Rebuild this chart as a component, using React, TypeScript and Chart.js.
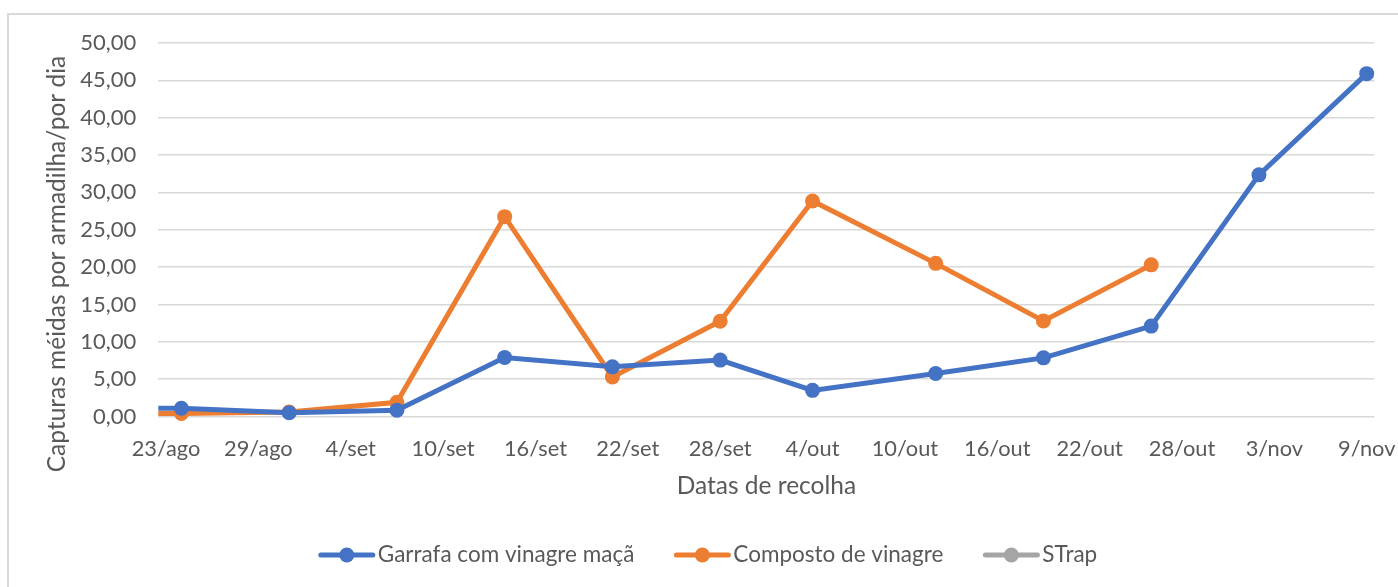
import React, { useEffect, useRef } from "react";
import { Chart, registerables } from "chart.js";

Chart.register(...registerables);

const MONTHS = ["jan", "fev", "mar", "abr", "mai", "jun", "jul", "ago", "set", "out", "nov", "dez"];

const xTickLabels = ["23/ago", "29/ago", "4/set", "10/set", "16/set", "22/set", "28/set", "4/out", "10/out", "16/out", "22/out", "28/out", "3/nov", "9/nov"];

const seriesNames = ["Garrafa com vinagre maçã", "Composto de vinagre", "STrap"];

const garrafaDates = ["17/ago", "24/ago", "31/ago", "7/set", "14/set", "21/set", "28/set", "4/out", "12/out", "19/out", "26/out", "2/nov", "9/nov"];
const garrafaValues = [1.1, 1.1, 0.5, 0.85, 7.9, 6.65, 7.55, 3.5, 5.75, 7.85, 12.1, 32.35, 45.9];

const compostoDates = ["17/ago", "24/ago", "31/ago", "7/set", "14/set", "21/set", "28/set", "4/out", "12/out", "19/out", "26/out"];
const compostoValues = [0.4, 0.4, 0.6, 1.9, 26.75, 5.3, 12.75, 28.85, 20.5, 12.8, 20.3];

const strapDates: string[] = [];
const strapValues: number[] = [];

const yMin = 0;
const yMax = 50;
const yStep = 5;

const seriesColors = ["#4472C4", "#ED7D31", "#A5A5A5"];
const yTitle = "Capturas méidas por armadilha/por dia";
const xTitle = "Datas de recolha";

const FONT = "Lato";
const TEXT = "#595959";
const GRID = "#d9d9d9";

function dayOffset(label: string): number {
  const [d, m] = label.split("/");
  const mi = MONTHS.indexOf(m);
  const t = Date.UTC(2000, mi, parseInt(d, 10));
  const base = Date.UTC(2000, 7, 23);
  return Math.round((t - base) / 86400000);
}

function toPoints(dates: string[], values: number[]) {
  return dates.map((d, i) => ({ x: dayOffset(d), y: values[i] }));
}

const overlayPlugin = {
  id: "overlay",
  afterDraw(chart: any) {
    const ctx = chart.ctx as CanvasRenderingContext2D;
    ctx.save();
    // Y axis title
    ctx.font = `24.5px ${FONT}`;
    ctx.fillStyle = TEXT;
    ctx.textAlign = "center";
    ctx.textBaseline = "middle";
    ctx.translate(57, 264);
    ctx.rotate(-Math.PI / 2);
    ctx.fillText(yTitle, 0, 0);
    ctx.restore();

    // Legend
    ctx.save();
    ctx.font = `22.5px ${FONT}`;
    const lineW = 56;
    const gapText = 3;
    const gapItem = 40;
    const widths = seriesNames.map((n) => ctx.measureText(n).width);
    const total = widths.reduce((a, w) => a + lineW + gapText + w, 0) + gapItem * (seriesNames.length - 1);
    let x = 708 - total / 2;
    const y = 555;
    seriesNames.forEach((name, i) => {
      ctx.strokeStyle = seriesColors[i];
      ctx.lineWidth = 5;
      ctx.lineCap = "round";
      ctx.beginPath();
      ctx.moveTo(x + 2, y);
      ctx.lineTo(x + lineW - 2, y);
      ctx.stroke();
      ctx.fillStyle = seriesColors[i];
      ctx.beginPath();
      ctx.arc(x + lineW / 2, y, 7.5, 0, Math.PI * 2);
      ctx.fill();
      ctx.fillStyle = TEXT;
      ctx.textAlign = "left";
      ctx.textBaseline = "middle";
      ctx.fillText(name, x + lineW + gapText, y);
      x += lineW + gapText + widths[i] + gapItem;
    });
    ctx.restore();
  },
};

export default function App() {
  const canvasRef = useRef<HTMLCanvasElement | null>(null);

  useEffect(() => {
    if (!canvasRef.current) return;
    const xMin = dayOffset(xTickLabels[0]) - 0.5;
    const xMax = dayOffset(xTickLabels[xTickLabels.length - 1]) + 0.5;
    const tickValues = xTickLabels.map(dayOffset);

    const mkDs = (i: number, dates: string[], values: number[]) => ({
      label: seriesNames[i],
      data: toPoints(dates, values),
      borderColor: seriesColors[i],
      backgroundColor: seriesColors[i],
      pointBackgroundColor: seriesColors[i],
      pointBorderColor: seriesColors[i],
      borderWidth: 5,
      pointRadius: 7.5,
      pointBorderWidth: 0,
      tension: 0,
      clip: { left: 0, top: 12, right: 12, bottom: 12 },
    });

    const chart = new Chart(canvasRef.current, {
      type: "line",
      data: {
        datasets: [
          mkDs(0, garrafaDates, garrafaValues),
          mkDs(1, compostoDates, compostoValues),
          mkDs(2, strapDates, strapValues),
        ],
      },
      options: {
        animation: false,
        responsive: false,
        maintainAspectRatio: false,
        layout: { padding: { left: 0, right: 23.6, top: 43, bottom: 86 } },
        plugins: { legend: { display: false }, tooltip: { enabled: false } },
        scales: {
          x: {
            type: "linear",
            min: xMin,
            max: xMax,
            grid: { display: false, drawTicks: false },
            border: { display: false },
            afterBuildTicks: (s: any) => {
              s.ticks = tickValues.map((v) => ({ value: v }));
            },
            afterFit: (s: any) => {
              s.height = 84.5;
              s.paddingLeft = 0;
              s.paddingRight = 0;
            },
            ticks: {
              padding: 19,
              color: TEXT,
              font: { family: FONT, size: 21.8 },
              autoSkip: false,
              maxRotation: 0,
              callback: (v: any) => {
                const idx = tickValues.indexOf(Number(v));
                return idx >= 0 ? xTickLabels[idx] : "";
              },
            },
            title: {
              display: true,
              text: xTitle,
              color: TEXT,
              font: { family: FONT, size: 24.5 },
              padding: { top: 0, bottom: 0 },
            },
          },
          y: {
            min: yMin,
            max: yMax,
            grid: { color: GRID, lineWidth: 1.5, drawTicks: false },
            border: { display: false },
            afterFit: (s: any) => {
              s.width = 158.3;
              s.paddingTop = 0;
              s.paddingBottom = 0;
            },
            ticks: {
              stepSize: yStep,
              padding: 22,
              color: TEXT,
              font: { family: FONT, size: 22 },
              callback: (v: any) => Number(v).toFixed(2).replace(".", ","),
            },
          },
        },
      },
      plugins: [overlayPlugin],
    } as any);
    return () => chart.destroy();
  }, []);

  return (
    <div
      style={{
        position: "fixed",
        left: 0,
        top: 0,
        width: 1398,
        height: 587,
        overflow: "hidden",
        background: "#ffffff",
      }}
    >
      <div
        style={{
          position: "absolute",
          left: 7,
          top: 13,
          width: 1420,
          height: 620,
          border: "2px solid #d9d9d9",
          boxSizing: "border-box",
        }}
      />
      <canvas
        ref={canvasRef}
        width={1398}
        height={587}
        style={{ position: "absolute", left: 0, top: 0, width: 1398, height: 587 }}
      />
    </div>
  );
}
